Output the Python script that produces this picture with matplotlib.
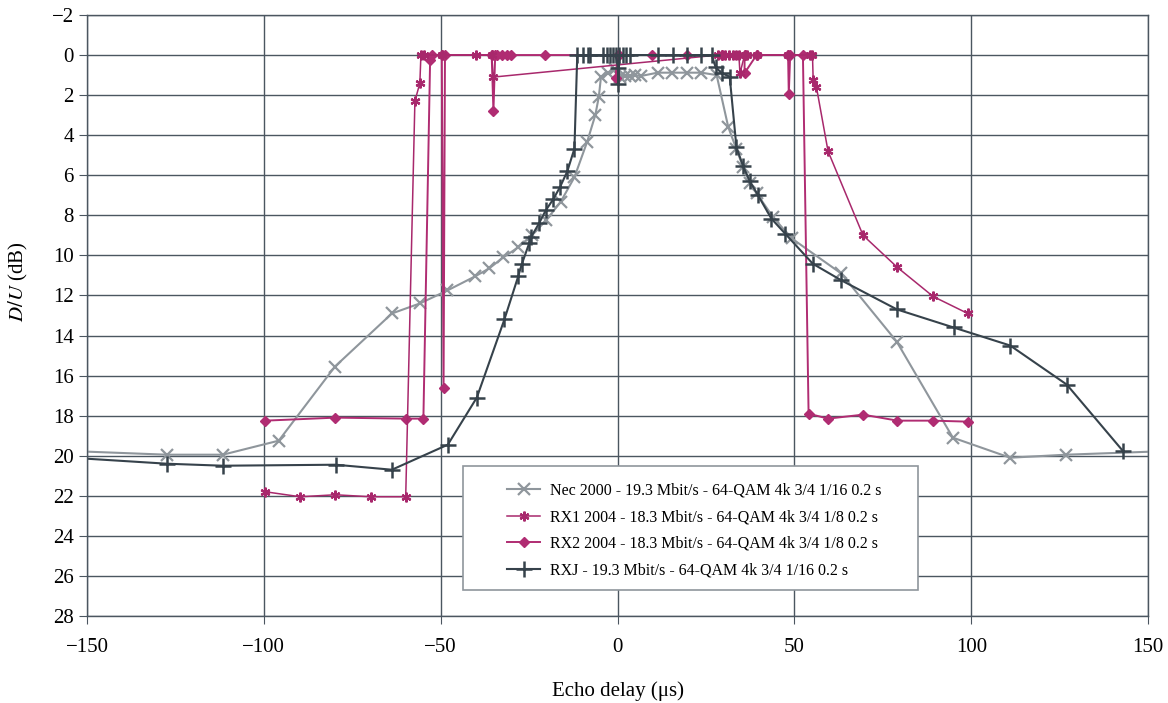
import matplotlib
matplotlib.use("Agg")
import matplotlib.pyplot as plt
from matplotlib.patches import Rectangle

# Echo delay (us) and D/U (dB)
nec_x = [-160, -127.4, -111.6, -95.8, -79.9, -63.8, -55.9, -48.1, -40.3, -36.3,
         -32.3, -28.1, -24.3, -20.2, -16.1, -12.2, -8.6, -6.3, -5.3, -4.7, -2.6,
         -0.8, 0.6, 2.0, 3.4, 4.8, 6.5, 11.3, 15.3, 19.5, 23.7, 28.0, 31.3, 33.6,
         35.5, 37.4, 39.3, 44.0, 49.2, 63.2, 78.9, 94.8, 111.0, 126.8, 160]
nec_y = [19.73, 19.95, 19.95, 19.25, 15.55, 12.9, 12.4, 11.75, 11.05, 10.65,
         10.1, 9.6, 9.0, 8.25, 7.33, 6.1, 4.33, 3.0, 2.08, 1.1, 0.9,
         0.7, 1.1, 1.05, 1.05, 1.0, 1.05, 0.88, 0.88, 0.88, 0.88, 1.0, 3.6, 4.7,
         5.6, 6.4, 6.9, 8.1, 9.15, 10.9, 14.3, 19.1, 20.1, 19.95, 19.74]

rx1_x = [-99.6, -89.7, -79.8, -69.8, -59.9, -57.3, -55.9, -55.6, -54.8, -49.7,
         -40.0, -35.6, -35.1, 28.4, 29.5, 30.5, 31.5, 32.5, 33.5, 34.3, 34.6,
         35.9, 36.5, 39.3, 48.2, 54.3, 55.1, 55.3, 56.2, 59.5, 69.4, 79.1, 89.2,
         99.0]
rx1_y = [21.8, 22.05, 21.95, 22.05, 22.05, 2.3, 1.4, 0.0, 0.0, 0.0,
         0.0, 0.0, 1.1, 0.0, 0.0, 0.0, 0.0, 0.0, 0.0, 0.0, 0.92,
         0.0, 0.0, 0.0, 0.0, 0.0, 0.0, 1.25, 1.58, 4.8, 9.0, 10.6, 12.05,
         12.9]

rx2_x = [-99.6, -79.8, -59.9, -54.9, -53.0, -52.5, -49.7, -49.2, -48.8, -35.6,
         -35.1, -34.6, -34.2, -32.8, -31.4, -30.0, -20.5, 0.0, -0.5, 0.3, 9.6,
         19.5, 29.4, 35.9, 35.9, 39.3, 48.2, 48.4, 48.8, 52.4, 54.0, 59.5, 69.4,
         79.1, 89.2, 99.0]
rx2_y = [18.25, 18.1, 18.15, 18.15, 0.25, 0.0, 0.0, 16.6, 0.0, 0.0,
         2.8, 0.0, 0.0, 0.0, 0.0, 0.0, 0.0, 0.0, 1.15, 0.0, 0.0,
         0.0, 0.0, 0.0, 0.9, 0.0, 0.0, 1.95, 0.0, 0.0, 17.9, 18.15, 17.95,
         18.25, 18.25, 18.3]

rxj_x = [-160, -127.4, -111.6, -79.7, -63.8, -48.0, -39.8, -32.0, -28.1, -27.1,
         -25.0, -24.5, -22.2, -20.3, -18.2, -16.3, -14.2, -12.2, -11.4, -9.7,
         -8.3, -7.8, -4.1, -2.9, -2.2, -1.4, -0.5, 0.1, 0.2, 0.5, 1.4, 2.5, 3.5,
         11.5, 15.7, 19.5, 23.7, 26.6, 27.7, 29.4, 31.7, 33.6, 35.5, 37.4, 39.7,
         43.5, 47.4, 55.2, 63.3, 79.0, 95.0, 111.0, 127.0, 142.8]
rxj_y = [20.04, 20.4, 20.5, 20.45, 20.7, 19.45, 17.1, 13.2, 11.05, 10.45,
         9.4, 9.1, 8.4, 7.75, 7.2, 6.6, 5.8, 4.67, 0.0, 0.0,
         0.0, 0.0, 0.0, 0.0, 0.0, 0.0, 0.0, 0.63, 1.47, 0.0, 0.0, 0.0, 0.0,
         0.0, 0.0, 0.0, 0.0, 0.0, 0.6, 0.9, 1.08, 4.6, 5.55, 6.3, 7.0,
         8.17, 8.92, 10.42, 11.25, 12.7, 13.6, 14.5, 16.45, 19.75]

labels = [
    "Nec 2000 - 19.3 Mbit/s - 64-QAM 4k 3/4 1/16 0.2 s",
    "RX1 2004 - 18.3 Mbit/s - 64-QAM 4k 3/4 1/8 0.2 s",
    "RX2 2004 - 18.3 Mbit/s - 64-QAM 4k 3/4 1/8 0.2 s",
    "RXJ - 19.3 Mbit/s - 64-QAM 4k 3/4 1/16 0.2 s",
]

plt.rcParams["font.family"] = ["Liberation Serif", "DejaVu Serif"]
plt.rcParams["mathtext.fontset"] = "stix"

fig = plt.figure(figsize=(11.68, 7.03), dpi=100)
ax = fig.add_axes([0.0745, 0.1238, 0.9085, 0.8549])

grid_color = "#4b5660"
ax.set_axisbelow(True)
ax.grid(True, color=grid_color, linewidth=1.0)

ax.plot(nec_x, nec_y, color="#8f969c", linewidth=1.5, marker="x",
        markersize=9, markeredgewidth=1.6, label=labels[0])
ax.plot(rx2_x, rx2_y, color="#b02c72", linewidth=1.4, marker="D",
        markersize=5, label=labels[2])
ax.plot(rx1_x, rx1_y, color="#a8286c", linewidth=1.1, marker=(6, 2, 0),
        markersize=7, markeredgewidth=1.6, label=labels[1])
ax.plot(rxj_x, rxj_y, color="#36424b", linewidth=1.5, marker="+",
        markersize=11, markeredgewidth=1.8, label=labels[3])

ax.set_xlim(-150, 150)
ax.set_ylim(28, -2)
ax.set_xticks(range(-150, 151, 50))
ax.set_yticks(range(-2, 29, 2))
ax.tick_params(axis="both", labelsize=15, color=grid_color, length=6,
               direction="out")
ax.tick_params(axis="x", pad=10)
for side in ax.spines.values():
    side.set_color(grid_color)
    side.set_linewidth(1.0)

ax.set_xlabel("Echo delay (μs)", fontsize=15, labelpad=17)
ax.set_ylabel(r"$\it{D/U}$ (dB)", fontsize=15)
ax.yaxis.set_label_coords(-0.0535, 0.556)

# legend box drawn separately so the inner padding can match the original
box = Rectangle((0.3544, 0.0433), 0.4288, 0.2063, transform=ax.transAxes,
                facecolor="white", edgecolor="#8f969c", linewidth=1.2,
                zorder=5)
ax.add_patch(box)

handles, labs = ax.get_legend_handles_labels()
order = [0, 2, 1, 3]
leg = ax.legend([handles[i] for i in order], [labs[i] for i in order],
                loc="upper left", bbox_to_anchor=(0.3959, 0.222),
                fontsize=11.5, frameon=False, handlelength=2.07,
                handletextpad=0.63, labelspacing=0.67, borderpad=0,
                borderaxespad=0)
leg.set_zorder(6)

fig.savefig("out.png", dpi=100)
